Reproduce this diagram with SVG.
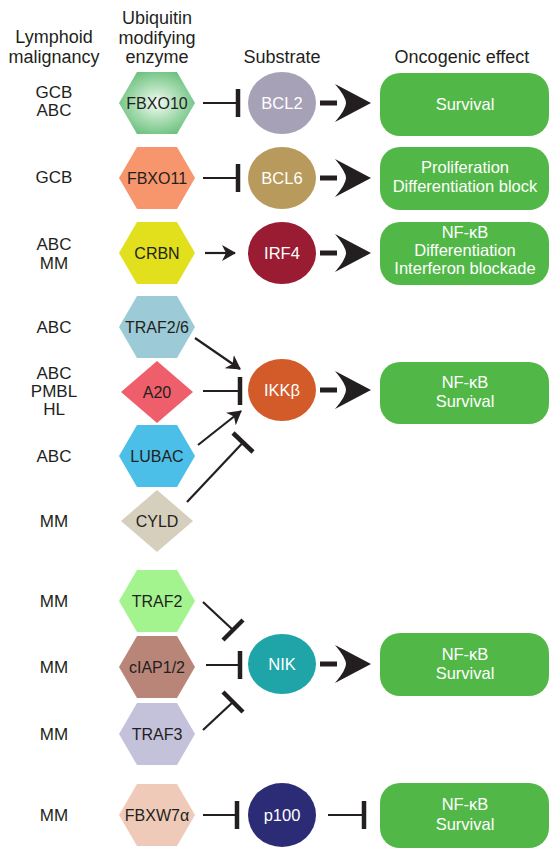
<svg xmlns="http://www.w3.org/2000/svg" xmlns:xlink="http://www.w3.org/1999/xlink" width="559" height="854" viewBox="0 0 559 854">
<style>
text{font-family:"Liberation Sans",Arial,sans-serif;text-anchor:middle;fill:#231f20}
.hd{font-size:18px}
.lb{font-size:17px}
.nt{font-size:16px}
.st{font-size:16.5px;fill:#fff}
.bt{font-size:16.5px;fill:#fff}
.box{fill:#51b847}
.ln{stroke:#231f20;stroke-width:2.2;fill:none}
.bar{stroke:#231f20;stroke-width:4.5;fill:none}
.dash{stroke:#231f20;stroke-width:5;fill:none}
.big{fill:#231f20}
</style>
<defs>
<polygon id="hex" points="-38,0 -20,-31 20,-31 38,0 20,31 -20,31"/>
<polygon id="dia" points="-36,0 0,-31 36,0 0,31"/>
<path id="bigarrow" d="M0,0 L-36,-19 Q-25,-6 -25,0 Q-25,6 -36,19 Z"/>
<radialGradient id="g10" cx="0.5" cy="0.5" r="0.55">
<stop offset="0" stop-color="#f4fbf5"/>
<stop offset="0.55" stop-color="#a6dbb0"/>
<stop offset="1" stop-color="#6cc17e"/>
</radialGradient>
<marker id="ah" viewBox="0 0 14 16" refX="13" refY="8" markerWidth="14" markerHeight="16" markerUnits="userSpaceOnUse" orient="auto">
<path d="M0,0 L14,8 L0,16 L4,8 Z" fill="#231f20"/>
</marker>
</defs>

<g id="headers">
<text class="hd" x="54" y="43">Lymphoid</text>
<text class="hd" x="54" y="63">malignancy</text>
<text class="hd" x="157" y="24">Ubiquitin</text>
<text class="hd" x="157" y="44">modifying</text>
<text class="hd" x="157" y="63">enzyme</text>
<text class="hd" x="282" y="63">Substrate</text>
<text class="hd" x="462" y="63">Oncogenic effect</text>
</g>

<g id="malignancies">
<text class="lb" x="54" y="98">GCB</text>
<text class="lb" x="54" y="116">ABC</text>
<text class="lb" x="54" y="183">GCB</text>
<text class="lb" x="54" y="250">ABC</text>
<text class="lb" x="54" y="269">MM</text>
<text class="lb" x="54" y="333">ABC</text>
<text class="lb" x="54" y="379">ABC</text>
<text class="lb" x="54" y="397">PMBL</text>
<text class="lb" x="54" y="415">HL</text>
<text class="lb" x="54" y="462">ABC</text>
<text class="lb" x="54" y="527">MM</text>
<text class="lb" x="54" y="607">MM</text>
<text class="lb" x="54" y="673">MM</text>
<text class="lb" x="54" y="740">MM</text>
<text class="lb" x="54" y="821">MM</text>
</g>

<g id="FBXO10"><use xlink:href="#hex" x="157" y="103" fill="url(#g10)"/><text class="nt" x="157" y="108.5">FBXO10</text></g>
<g id="FBXO11"><use xlink:href="#hex" x="157" y="178" fill="#f7956c"/><text class="nt" x="157" y="183.5">FBXO11</text></g>
<g id="CRBN"><use xlink:href="#hex" x="157" y="253" fill="#e2df1c"/><text class="nt" x="157" y="258.5">CRBN</text></g>
<g id="TRAF2-6"><use xlink:href="#hex" x="157" y="327" fill="#9ccbd7"/><text class="nt" x="157" y="332.5">TRAF2/6</text></g>
<g id="A20"><use xlink:href="#dia" x="157" y="392" fill="#ee5f6b"/><text class="nt" x="157" y="397.5">A20</text></g>
<g id="LUBAC"><use xlink:href="#hex" x="157" y="456" fill="#4bbfe7"/><text class="nt" x="157" y="461.5">LUBAC</text></g>
<g id="CYLD"><use xlink:href="#dia" x="157" y="521" fill="#d7cfbe"/><text class="nt" x="157" y="526.5">CYLD</text></g>
<g id="TRAF2"><use xlink:href="#hex" x="157" y="601" fill="#a3f48f"/><text class="nt" x="157" y="606.5">TRAF2</text></g>
<g id="cIAP1-2"><use xlink:href="#hex" x="157" y="667" fill="#b98578"/><text class="nt" x="157" y="672.5">cIAP1/2</text></g>
<g id="TRAF3"><use xlink:href="#hex" x="157" y="734" fill="#c4c1da"/><text class="nt" x="157" y="739.5">TRAF3</text></g>
<g id="FBXW7a"><use xlink:href="#hex" x="157" y="815" fill="#efcab8"/><text class="nt" x="157" y="820.5">FBXW7α</text></g>

<g id="BCL2"><ellipse cx="282" cy="103" rx="34" ry="31" fill="#a7a1b7"/><text class="st" x="282" y="109">BCL2</text></g>
<g id="BCL6"><ellipse cx="282" cy="178" rx="34" ry="31" fill="#b79a5c"/><text class="st" x="282" y="184">BCL6</text></g>
<g id="IRF4"><ellipse cx="282" cy="253" rx="34" ry="31" fill="#9a1c32"/><text class="st" x="282" y="259">IRF4</text></g>
<g id="IKKb"><ellipse cx="282" cy="390" rx="34" ry="31" fill="#d35a29"/><text class="st" x="282" y="396">IKKβ</text></g>
<g id="NIK"><ellipse cx="282" cy="664" rx="34" ry="30" fill="#1fa4a7"/><text class="st" x="282" y="670">NIK</text></g>
<g id="p100"><ellipse cx="282" cy="815" rx="34" ry="32" fill="#2b2c75"/><text class="st" x="282" y="821">p100</text></g>

<g id="effect1"><rect class="box" x="380" y="73" width="169" height="63" rx="20"/><text class="bt" x="465" y="110">Survival</text></g>
<g id="effect2"><rect class="box" x="380" y="147" width="169" height="63" rx="20"/><text class="bt" x="465" y="173">Proliferation</text><text class="bt" x="465" y="192">Differentiation block</text></g>
<g id="effect3"><rect class="box" x="380" y="222" width="169" height="63" rx="20"/><text class="bt" x="465" y="238">NF-κB</text><text class="bt" x="465" y="256">Differentiation</text><text class="bt" x="465" y="274">Interferon blockade</text></g>
<g id="effect4"><rect class="box" x="380" y="362" width="169" height="62" rx="20"/><text class="bt" x="465" y="388">NF-κB</text><text class="bt" x="465" y="407">Survival</text></g>
<g id="effect5"><rect class="box" x="380" y="633" width="169" height="63" rx="20"/><text class="bt" x="465" y="660">NF-κB</text><text class="bt" x="465" y="679">Survival</text></g>
<g id="effect6"><rect class="box" x="380" y="783" width="169" height="65" rx="20"/><text class="bt" x="465" y="810">NF-κB</text><text class="bt" x="465" y="830">Survival</text></g>

<g id="connectors">
<line class="ln" x1="203" y1="103" x2="238" y2="103"/><line class="bar" x1="238" y1="89" x2="238" y2="117"/>
<line class="ln" x1="203" y1="178" x2="238" y2="178"/><line class="bar" x1="238" y1="164" x2="238" y2="192"/>
<line class="ln" x1="205" y1="253" x2="235" y2="253" marker-end="url(#ah)"/>
<line class="ln" x1="195" y1="338" x2="240" y2="369" marker-end="url(#ah)"/>
<line class="ln" x1="203" y1="391" x2="240" y2="391"/><line class="bar" x1="240" y1="377" x2="240" y2="405"/>
<line class="ln" x1="198" y1="445" x2="241" y2="411" marker-end="url(#ah)"/>
<line class="ln" x1="187" y1="502" x2="243" y2="442.5"/><line class="bar" x1="233" y1="433" x2="253" y2="452"/>
<line class="ln" x1="203" y1="602" x2="233" y2="630"/><line class="bar" x1="223" y1="640" x2="243" y2="620"/>
<line class="ln" x1="206" y1="665" x2="240" y2="665"/><line class="bar" x1="240" y1="651" x2="240" y2="679"/>
<line class="ln" x1="203" y1="730" x2="233" y2="702"/><line class="bar" x1="223" y1="692" x2="243" y2="712"/>
<line class="ln" x1="203" y1="815" x2="237" y2="815"/><line class="bar" x1="237" y1="801" x2="237" y2="829"/>
<line class="ln" x1="328" y1="815" x2="364" y2="815"/><line class="bar" x1="364" y1="801" x2="364" y2="829"/>
<line class="dash" x1="320" y1="103" x2="337" y2="103"/><use xlink:href="#bigarrow" x="371" y="103" class="big"/>
<line class="dash" x1="320" y1="178" x2="337" y2="178"/><use xlink:href="#bigarrow" x="371" y="178" class="big"/>
<line class="dash" x1="320" y1="253" x2="337" y2="253"/><use xlink:href="#bigarrow" x="371" y="253" class="big"/>
<line class="dash" x1="320" y1="390" x2="337" y2="390"/><use xlink:href="#bigarrow" x="371" y="390" class="big"/>
<line class="dash" x1="320" y1="664" x2="337" y2="664"/><use xlink:href="#bigarrow" x="371" y="664" class="big"/>
</g>
</svg>
